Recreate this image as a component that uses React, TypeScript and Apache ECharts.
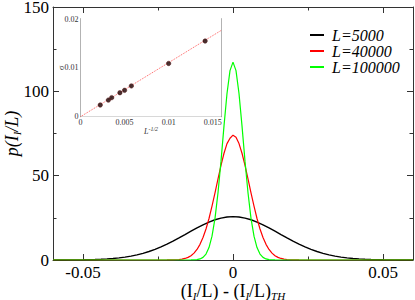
import React, { useEffect, useRef } from "react";
import * as echarts from "echarts";

const SERIF = "'Liberation Serif', 'Times New Roman', serif";

const seriesNames = ["L=5000", "L=40000", "L=100000"];
const seriesColors = ["#000000", "#ff0000", "#00ff00"];

// L=5000 histogram, sampled every 0.002
const xs = [
  -0.06, -0.058, -0.056, -0.054, -0.052, -0.05, -0.048, -0.046, -0.044, -0.042,
  -0.04, -0.038, -0.036, -0.034, -0.032, -0.03, -0.028, -0.026, -0.024, -0.022,
  -0.02, -0.018, -0.016, -0.014, -0.012, -0.01, -0.008, -0.006, -0.004, -0.002,
  0,
  0.002, 0.004, 0.006, 0.008, 0.01, 0.012, 0.014, 0.016, 0.018, 0.02,
  0.022, 0.024, 0.026, 0.028, 0.03, 0.032, 0.034, 0.036, 0.038, 0.04,
  0.042, 0.044, 0.046, 0.048, 0.05, 0.052, 0.054, 0.056, 0.058, 0.06,
];
const blackY = [
  0.01, 0.02, 0.04, 0.06, 0.09, 0.14, 0.21, 0.31, 0.46, 0.65,
  0.92, 1.27, 1.73, 2.32, 3.05, 3.95, 5.03, 6.3, 7.75, 9.39,
  11.17, 13.09, 15.08, 17.09, 19.04, 20.88, 22.49, 23.85, 24.86, 25.49,
  25.7,
  25.49, 24.86, 23.85, 22.49, 20.88, 19.04, 17.09, 15.08, 13.09, 11.17,
  9.39, 7.75, 6.3, 5.03, 3.95, 3.05, 2.32, 1.73, 1.27, 0.92,
  0.65, 0.46, 0.31, 0.21, 0.14, 0.09, 0.06, 0.04, 0.02, 0.01,
];

// L=40000 and L=100000 histograms, sampled every 0.001 near the centre
const xsFine = [
  -0.06,
  -0.024, -0.023, -0.022, -0.021, -0.02, -0.019, -0.018, -0.017, -0.016, -0.015,
  -0.014, -0.013, -0.012, -0.011, -0.01, -0.009, -0.008, -0.007, -0.006, -0.005,
  -0.004, -0.003, -0.002, -0.001,
  0,
  0.001, 0.002, 0.003, 0.004, 0.005, 0.006, 0.007, 0.008, 0.009, 0.01,
  0.011, 0.012, 0.013, 0.014, 0.015, 0.016, 0.017, 0.018, 0.019, 0.02,
  0.021, 0.022, 0.023, 0.024,
  0.06,
];
const redY = [
  0,
  0.005, 0.01, 0.02, 0.04, 0.08, 0.15, 0.29, 0.52, 0.92, 1.56,
  2.56, 4.07, 6.25, 9.27, 13.3, 18.4, 24.6, 31.9, 39.8, 48.1,
  56.1, 63.3, 69.0, 72.2,
  74.0,
  72.8, 69.0, 63.3, 56.1, 48.1, 39.8, 31.9, 24.6, 18.4, 13.3,
  9.27, 6.25, 4.07, 2.56, 1.56, 0.92, 0.52, 0.29, 0.15, 0.08,
  0.04, 0.02, 0.01, 0.005,
  0,
];
const greenY = [
  0,
  0, 0, 0, 0, 0, 0, 0, 0, 0, 0.01,
  0.02, 0.08, 0.23, 0.63, 1.55, 3.53, 7.39, 14.1, 24.7, 39.9,
  58.6, 79.5, 98.7, 112.3,
  117.3,
  112.3, 98.7, 79.5, 58.6, 39.9, 24.7, 14.1, 7.39, 3.53, 1.55,
  0.63, 0.23, 0.08, 0.02, 0.01, 0, 0, 0, 0, 0,
  0, 0, 0, 0,
  0,
];

// inset: sigma vs L^{-1/2}
const insetX = [0.00224, 0.00316, 0.00354, 0.00447, 0.005, 0.00577, 0.01, 0.01414];
const insetY = [0.0024, 0.0034, 0.0039, 0.0049, 0.0054, 0.0063, 0.0109, 0.0155];
const fitX = [0, 0.016];
const fitY = [0, 0.0177];

const mainXTicks = [-0.05, 0, 0.05];
const mainXMinor = [-0.025, 0.025];
const insetXTicks = [0, 0.005, 0.01, 0.015];
const insetXMinor = [0.0025, 0.0075, 0.0125];

const AX = "#333";

function zip(a: number[], b: number[]) {
  return a.map((v, i) => [v, b[i]]);
}

export default function App() {
  const ref = useRef<HTMLDivElement>(null);
  useEffect(() => {
    document.body.style.margin = "0";
    const chart = echarts.init(ref.current!, null, { renderer: "svg" });
    const mainX = (pos: string, ticks: number[], len: number, line: boolean, labels: boolean, extra: any = {}) => ({
      type: "value",
      gridIndex: 0,
      min: -0.06,
      max: 0.06,
      position: pos,
      axisLine: { show: line, onZero: false, lineStyle: { color: AX, width: 1 } },
      axisTick: { show: true, inside: true, length: len, customValues: ticks, lineStyle: { color: AX } },
      axisLabel: {
        show: labels,
        customValues: ticks,
        margin: 5,
        fontFamily: SERIF,
        fontSize: 17,
        lineHeight: 14,
        color: "#000",
        formatter: (v: number) => String(v),
      },
      splitLine: { show: false },
      ...extra,
    });
    const insX = (pos: string, ticks: number[], len: number, line: boolean, labels: boolean, extra: any = {}) => ({
      type: "value",
      gridIndex: 1,
      min: 0,
      max: 0.016,
      position: pos,
      axisLine: { show: line, onZero: false, lineStyle: { color: "#666", width: 1 } },
      axisTick: { show: true, inside: true, length: len, customValues: ticks, lineStyle: { color: "#666" } },
      axisLabel: {
        show: labels,
        customValues: ticks,
        margin: 2,
        fontFamily: SERIF,
        fontSize: 8,
        color: "#333",
        formatter: (v: number) => String(v),
      },
      splitLine: { show: false },
      ...extra,
    });
    const mainY = (pos: string, labels: boolean, extra: any = {}) => ({
      type: "value",
      gridIndex: 0,
      min: 0,
      max: 150,
      interval: 50,
      position: pos,
      axisLine: { show: true, onZero: false, lineStyle: { color: AX, width: 1 } },
      axisTick: { show: true, inside: true, length: 6, lineStyle: { color: AX } },
      minorTick: { show: true, splitNumber: 2, length: 3.5, lineStyle: { color: AX } },
      axisLabel: { show: labels, margin: 4, fontFamily: SERIF, fontSize: 17, lineHeight: 14, color: "#000" },
      splitLine: { show: false },
      minorSplitLine: { show: false },
      ...extra,
    });
    const insY = (pos: string, labels: boolean, extra: any = {}) => ({
      type: "value",
      gridIndex: 1,
      min: 0,
      max: 0.02,
      interval: 0.01,
      position: pos,
      axisLine: { show: true, onZero: false, lineStyle: { color: "#666", width: 1 } },
      axisTick: { show: true, inside: true, length: 3, lineStyle: { color: "#666" } },
      minorTick: { show: true, splitNumber: 3, length: 2, lineStyle: { color: "#666" } },
      axisLabel: { show: labels, margin: 2, fontFamily: SERIF, fontSize: 8, color: "#333" },
      splitLine: { show: false },
      minorSplitLine: { show: false },
      ...extra,
    });

    const option: any = {
      animation: false,
      backgroundColor: "#fff",
      grid: [
        { left: 53, right: 2, top: 7, bottom: 40, show: false, outerBoundsMode: "none", containLabel: false },
        {
          left: 80.5, top: 19, width: 141, height: 97.7, show: true, backgroundColor: "#fff", borderWidth: 0, z: 5,
          outerBoundsMode: "none", containLabel: false,
        },
      ],
      legend: [
        {
          data: seriesNames,
          orient: "vertical",
          left: 310,
          top: 27,
          padding: 0,
          itemGap: 0,
          itemWidth: 14,
          itemHeight: 2,
          icon: "rect",
          textStyle: { fontFamily: SERIF, fontStyle: "italic", fontSize: 16, lineHeight: 16, color: "#000", padding: [0, 0, 0, 3] },
        },
        {
          data: ["fit"],
          left: 179,
          top: 26,
          padding: 0,
          itemWidth: 7,
          itemHeight: 1,
          icon: "rect",
          textStyle: { fontFamily: SERIF, fontStyle: "italic", fontSize: 9, color: "#555" },
        },
      ],
      xAxis: [
        mainX("bottom", mainXTicks, 6, true, true, {
          name: "{a|(I}{b|I}{a|/L) - (I}{b|I}{a|/L)}{b|TH}",
          nameLocation: "middle",
          nameGap: 21,
          nameMoveOverlap: false,
          nameTextStyle: {
            rich: {
              a: { fontFamily: SERIF, fontSize: 18, color: "#000" },
              b: { fontFamily: SERIF, fontSize: 11, fontStyle: "italic", color: "#000", padding: [9, 0, 0, 0] },
            },
          },
        }),
        mainX("bottom", mainXMinor, 3.5, false, false),
        mainX("top", mainXTicks, 6, true, false),
        mainX("top", mainXMinor, 3.5, false, false),
        insX("bottom", insetXTicks, 3, true, true, {
          name: "{a|L}{b|-1/2}",
          nameLocation: "middle",
          nameGap: 9,
          nameMoveOverlap: false,
          nameTextStyle: {
            rich: {
              a: { fontFamily: SERIF, fontSize: 8, fontStyle: "italic", color: "#333" },
              b: { fontFamily: SERIF, fontSize: 6, fontStyle: "italic", color: "#333", padding: [0, 0, 5, 0] },
            },
          },
        }),
        insX("bottom", insetXMinor, 2, false, false),
        insX("top", insetXTicks, 3, true, false),
        insX("top", insetXMinor, 2, false, false),
      ],
      yAxis: [
        mainY("left", true, {
          name: "{a|p(I}{b|I}{a|/L)}",
          nameLocation: "middle",
          nameRotate: 90,
          nameGap: 31,
          nameMoveOverlap: false,
          nameTextStyle: {
            rich: {
              a: { fontFamily: SERIF, fontSize: 18, fontStyle: "italic", color: "#000" },
              b: { fontFamily: SERIF, fontSize: 11, fontStyle: "italic", color: "#000", padding: [9, 0, 0, 0] },
            },
          },
        }),
        mainY("right", false),
        insY("left", true, {
          name: "σ",
          nameLocation: "middle",
          nameRotate: 90,
          nameGap: 15,
          nameMoveOverlap: false,
          nameTextStyle: { fontFamily: SERIF, fontSize: 8, color: "#333" },
        }),
        insY("right", false),
      ],
      series: [
        {
          name: seriesNames[0], type: "line", xAxisIndex: 0, yAxisIndex: 0, showSymbol: false,
          data: zip(xs, blackY), lineStyle: { color: seriesColors[0], width: 1.4 }, itemStyle: { color: seriesColors[0] },
        },
        {
          name: seriesNames[1], type: "line", xAxisIndex: 0, yAxisIndex: 0, showSymbol: false,
          data: zip(xsFine, redY), lineStyle: { color: seriesColors[1], width: 1.2 }, itemStyle: { color: seriesColors[1] },
        },
        {
          name: seriesNames[2], type: "line", xAxisIndex: 0, yAxisIndex: 0, showSymbol: false,
          data: zip(xsFine, greenY), lineStyle: { color: seriesColors[2], width: 1.2 }, itemStyle: { color: seriesColors[2] },
        },
        {
          name: "fit", type: "line", xAxisIndex: 4, yAxisIndex: 2, showSymbol: false, z: 6,
          data: zip(fitX, fitY), lineStyle: { color: "#ff6060", width: 1, type: "dotted" }, itemStyle: { color: "#ff8080" },
        },
        {
          name: "sigma", type: "scatter", xAxisIndex: 4, yAxisIndex: 2, z: 7,
          data: zip(insetX, insetY), symbolSize: 4.5, itemStyle: { color: "#1a0000", borderColor: "#500000", borderWidth: 0.5 },
        },
      ],
    };
    chart.setOption(option);
    return () => chart.dispose();
  }, []);
  return <div ref={ref} style={{ width: 415, height: 300 }} />;
}
